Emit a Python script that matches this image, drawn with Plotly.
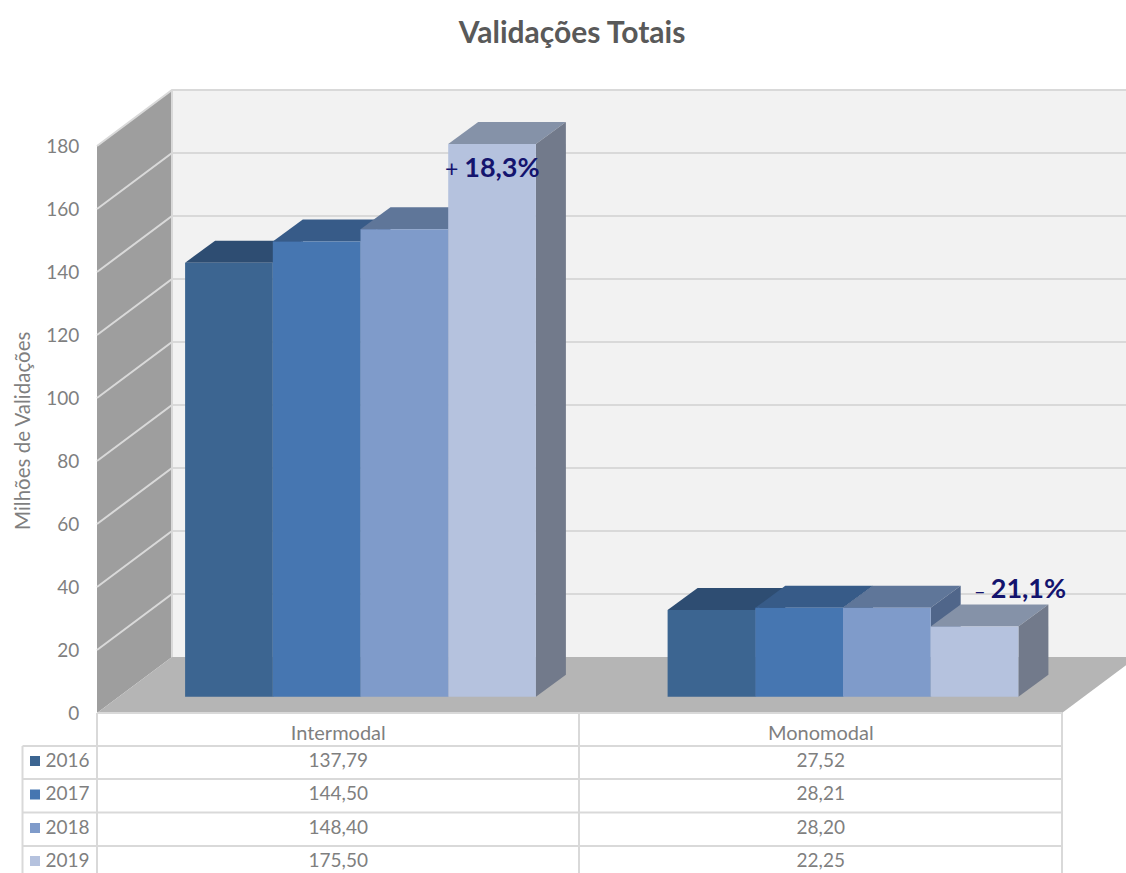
# Validacoes Totais: Excel-style 3D clustered columns with a data table underneath.
# Plotly has no 3D bar in 2D axes, so tops/sides are polygons offset from the bar values.

import plotly.graph_objects as go

CATEGORIES = ["Intermodal", "Monomodal"]
YEARS = ["2016", "2017", "2018", "2019"]
VALUES_2016 = [137.79, 27.52]
VALUES_2017 = [144.50, 28.21]
VALUES_2018 = [148.40, 28.20]
VALUES_2019 = [175.50, 22.25]
SERIES = [VALUES_2016, VALUES_2017, VALUES_2018, VALUES_2019]
Y_TICKS = [0, 20, 40, 60, 80, 100, 120, 140, 160, 180]
CHANGE_LABELS = ["18,3%", "21,1%"]

FRONT_COLORS = ["#3c6591", "#4676b1", "#7f9bca", "#b5c2de"]
TOP_COLORS = ["#2e4d72", "#375b88", "#5f7699", "#8592a8"]
SIDE_COLORS = ["#2a4566", "#31517a", "#50668a", "#727a8b"]

FONT = "Lato"
TEXT_COLOR = "#7f7f7f"
GRID_COLOR = "#d9d9d9"

W, H = 1126, 873

# ---- pixel layout of the picture, converted to axis units
X_CENTER_0 = 338.25
CAT_PX = 482.5
Y_ZERO_PX = 713
UNIT_PX = 3.15


def xu(px):
    return (px - X_CENTER_0) / CAT_PX


def yu(py):
    return (Y_ZERO_PX - py) / UNIT_PX


WALL_DX = 75 / CAT_PX
WALL_DY = 56 / UNIT_PX
BAR_DX = 30 / CAT_PX
BAR_DY = 22 / UNIT_PX
BAR_W = 87.7 / CAT_PX
BAR_BASE = yu(696.7)
GROUP_SHIFT = xu(360.5)
LEFT = xu(97)
RIGHT = xu(1062)
MID = xu(579)
TOP = Y_TICKS[-1]

fig = go.Figure()


def polygon(xs, ys, color):
    fig.add_trace(go.Scatter(x=xs, y=ys, mode="lines", fill="toself", fillcolor=color,
                             line=dict(width=0, color=color), hoverinfo="skip", showlegend=False))


def line(xs, ys, width=2):
    fig.add_trace(go.Scatter(x=xs, y=ys, mode="lines", line=dict(width=width, color=GRID_COLOR),
                             hoverinfo="skip", showlegend=False))


# walls and floor
polygon([LEFT + WALL_DX, RIGHT + WALL_DX, RIGHT + WALL_DX, LEFT + WALL_DX],
        [WALL_DY, WALL_DY, TOP + WALL_DY, TOP + WALL_DY], "#f2f2f2")
polygon([LEFT, LEFT + WALL_DX, LEFT + WALL_DX, LEFT],
        [0, WALL_DY, TOP + WALL_DY, TOP], "#9e9e9e")
polygon([LEFT, LEFT + WALL_DX, RIGHT + WALL_DX, RIGHT],
        [0, WALL_DY, WALL_DY, 0], "#b5b5b5")

for tick in Y_TICKS[1:]:
    line([LEFT, LEFT + WALL_DX, RIGHT + WALL_DX], [tick, tick + WALL_DY, tick + WALL_DY])
line([LEFT + WALL_DX, LEFT + WALL_DX], [WALL_DY, TOP + WALL_DY])

# bar tops and sides, left to right so that neighbours overlap properly
for c in range(len(CATEGORIES)):
    for s, values in enumerate(SERIES):
        x0 = c + GROUP_SHIFT + (s - 2) * BAR_W
        x1 = x0 + BAR_W
        top = BAR_BASE + values[c]
        polygon([x0, x0 + BAR_DX, x1 + BAR_DX, x1],
                [top, top + BAR_DY, top + BAR_DY, top], TOP_COLORS[s])
        polygon([x1, x1 + BAR_DX, x1 + BAR_DX, x1],
                [BAR_BASE, BAR_BASE + BAR_DY, top + BAR_DY, top], SIDE_COLORS[s])

# front faces, on an overlaid axis pair so they sit above the polygons
for s, values in enumerate(SERIES):
    fig.add_trace(go.Bar(
        x=[c + GROUP_SHIFT + (s - 1.5) * BAR_W for c in range(len(CATEGORIES))],
        y=values, base=BAR_BASE, width=BAR_W,
        marker=dict(color=FRONT_COLORS[s], line=dict(width=0)),
        name=YEARS[s], xaxis="x2", yaxis="y2", showlegend=False,
        hovertemplate=YEARS[s] + ": %{y:.2f}<extra></extra>",
    ))

# data table below the plot
ROW_LINES = [746, 779, 812.5, 846]
ROW_CENTERS = [761, 794.5, 828, 861]
for py in ROW_LINES:
    line([xu(22.5), RIGHT], [yu(py), yu(py)])
line([LEFT, RIGHT], [0, 0])
line([xu(22.5), xu(22.5)], [yu(746), yu(H)])
for px_x in (LEFT, MID, RIGHT):
    line([px_x, px_x], [0, yu(H)])

for s, values in enumerate(SERIES):
    row_y = yu(ROW_CENTERS[s])
    text_y = yu(ROW_CENTERS[s] + 1)
    fig.add_trace(go.Scatter(
        x=[xu(35)], y=[row_y], mode="markers",
        marker=dict(symbol="square", size=10, color=FRONT_COLORS[s]),
        hoverinfo="skip", showlegend=False,
    ))
    fig.add_trace(go.Scatter(
        x=[xu(45.5)], y=[text_y], mode="text", text=[YEARS[s]], textposition="middle right",
        textfont=dict(family=FONT, size=19, color=TEXT_COLOR), hoverinfo="skip", showlegend=False,
    ))
    fig.add_trace(go.Scatter(
        x=list(range(len(CATEGORIES))), y=[text_y] * len(CATEGORIES), mode="text",
        text=[f"{v:.2f}".replace(".", ",") for v in values], textposition="middle center",
        textfont=dict(family=FONT, size=19, color=TEXT_COLOR), hoverinfo="skip", showlegend=False,
    ))

x_range = [xu(0), xu(W)]
y_range = [yu(H), yu(0)]

fig.add_annotation(x=xu(492), y=yu(166), xref="x", yref="y", showarrow=False,
                   text=f"<span style='font-size:23px'>+ </span><b>{CHANGE_LABELS[0]}</b>",
                   font=dict(family=FONT, size=27, color="#14146e"))
fig.add_annotation(x=xu(1020), y=yu(587), xref="x", yref="y", showarrow=False,
                   text=f"<span style='font-size:20px'>– </span><b>{CHANGE_LABELS[1]}</b>",
                   font=dict(family=FONT, size=27, color="#14146e"))
fig.add_annotation(x=xu(22), y=yu(431), xref="x", yref="y", showarrow=False, textangle=-90,
                   text="Milhões de Validações",
                   font=dict(family=FONT, size=20.5, color=TEXT_COLOR))

fig.update_layout(
    width=W, height=H,
    margin=dict(l=0, r=0, t=0, b=0),
    paper_bgcolor="white", plot_bgcolor="white",
    barmode="overlay", showlegend=False,
    title=dict(text="<b>Validações Totais</b>", x=572 / W, xanchor="center",
               y=1 - 32 / H, yanchor="middle",
               font=dict(family=FONT, size=30, color="#595959")),
    xaxis=dict(range=x_range, domain=[0, 1], anchor="free", position=(H - Y_ZERO_PX) / H,
               tickmode="array", tickvals=list(range(len(CATEGORIES))), ticktext=CATEGORIES,
               ticks="outside", ticklen=2, tickcolor="rgba(0,0,0,0)", showgrid=False, zeroline=False,
               showline=False, tickfont=dict(family=FONT, size=20, color=TEXT_COLOR)),
    yaxis=dict(range=y_range, domain=[0, 1], anchor="free", position=97 / W,
               tickmode="array", tickvals=Y_TICKS,
               ticks="outside", ticklen=14, tickcolor="rgba(0,0,0,0)", showgrid=False, zeroline=False,
               showline=False, tickfont=dict(family=FONT, size=19, color=TEXT_COLOR)),
    xaxis2=dict(range=x_range, overlaying="x", anchor="y2", visible=False),
    yaxis2=dict(range=y_range, overlaying="y", anchor="x2", visible=False),
)

# the default 8px body margin would push the figure off the window
fig.write_html("out.html", config={"displayModeBar": False},
               post_script="document.body.style.margin = '0';")
